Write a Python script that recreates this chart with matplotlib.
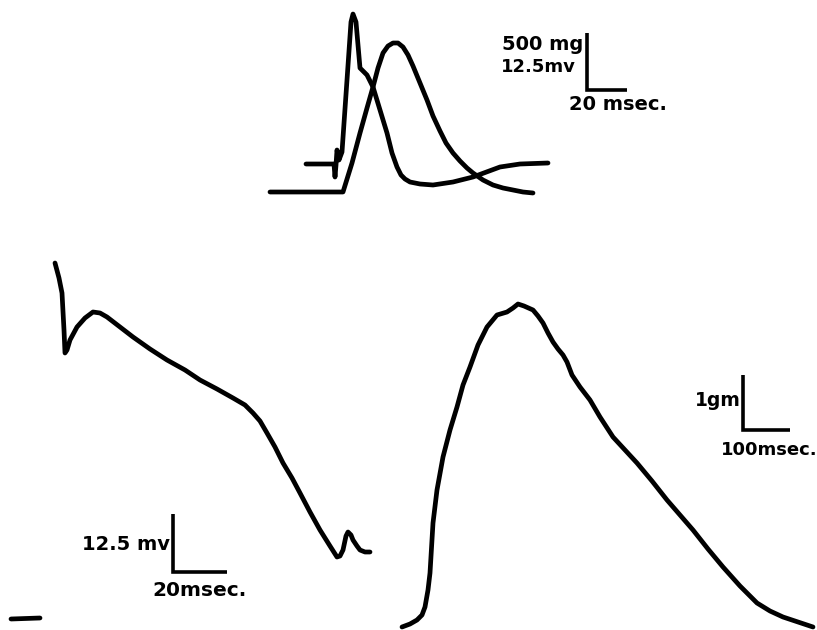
import matplotlib
matplotlib.use("Agg")
import matplotlib.pyplot as plt

# traces (pixel units, y grows downward)
# top: action potential with stimulus artifact
ap_x = [306, 334, 335, 336, 337, 339, 342, 347, 351, 353, 356, 358, 360, 367, 373,
        380, 387, 392, 397, 401, 405, 410, 420, 433, 453, 473, 500, 520, 548]
ap_y = [164, 164, 177, 165, 150, 160, 152, 80, 22, 14, 22, 45, 68, 75, 87,
        110, 133, 153, 167, 175, 179, 182, 184, 185, 182, 177, 167, 164, 163]

# top: twitch tension
tw_x = [270, 300, 343, 352, 360, 367, 373, 378, 383, 388, 393, 398, 403, 408, 413,
        420, 427, 433, 440, 446, 453, 460, 467, 473, 483, 493, 503, 513, 523, 533]
tw_y = [192, 192, 192, 163, 133, 108, 87, 68, 53, 46, 43, 43, 47, 55, 66,
        83, 100, 116, 131, 143, 153, 161, 168, 173, 180, 185, 188, 190, 192, 193]

# bottom left: ventricular action potential
vp_x = [55, 59, 62, 64, 65, 67, 70, 77, 85, 93, 100, 107, 120, 133, 150, 167, 185,
        200, 217, 233, 245, 253, 260, 267, 275, 283, 292, 300, 310, 320, 330,
        337, 340, 343, 346, 348, 351, 353, 357, 360, 365, 370]
vp_y = [263, 278, 293, 330, 353, 350, 340, 327, 318, 312, 313, 317, 327, 337, 349,
        360, 370, 380, 389, 398, 405, 413, 421, 433, 447, 463, 478, 493, 512, 530, 546,
        557, 556, 550, 536, 532, 535, 540, 546, 550, 552, 552]

# bottom right: contraction
ct_x = [402, 410, 417, 422, 425, 428, 430, 433, 437, 443, 450, 457, 463, 470, 478,
        487, 497, 507, 513, 518, 524, 533, 538, 543, 548, 553, 558, 563, 567, 572,
        580, 590, 600, 613, 625, 637, 652, 667, 680, 693, 708, 723, 740, 757,
        770, 783, 798, 813]
ct_y = [627, 624, 620, 615, 607, 590, 573, 523, 490, 457, 430, 407, 385, 367, 345,
        327, 315, 312, 308, 304, 306, 310, 316, 323, 333, 342, 349, 355, 362, 375,
        387, 400, 417, 437, 450, 463, 481, 500, 515, 530, 549, 567, 586, 603,
        611, 617, 622, 627]

dash_x = [11, 40]
dash_y = [619, 618]

# calibration bars: (corner x, corner y, bar height, bar width)
cal_top = (587, 90, 57, 40)
cal_left = (173, 572, 58, 54)
cal_right = (743, 430, 55, 47)

fig = plt.figure(figsize=(8.17, 6.3), dpi=100)
ax = fig.add_axes([0, 0, 1, 1])
ax.set_xlim(0, 817)
ax.set_ylim(630, 0)
ax.axis("off")

lw = 3.4
for xs, ys in [(ap_x, ap_y), (tw_x, tw_y), (vp_x, vp_y), (ct_x, ct_y), (dash_x, dash_y)]:
    ax.plot(xs, ys, color="black", lw=lw, solid_capstyle="round", solid_joinstyle="round")

for cx, cy, h, w in [cal_top, cal_left, cal_right]:
    ax.plot([cx, cx, cx + w], [cy - h, cy, cy], color="black", lw=2.6,
            solid_capstyle="butt", solid_joinstyle="miter")

font = dict(family="DejaVu Sans", weight="bold", color="black")
ax.text(583, 44, "500 mg", ha="right", va="center", fontsize=14, **font)
ax.text(576, 67, "12.5mv", ha="right", va="center", fontsize=13, **font)
ax.text(569, 105, "20 msec.", ha="left", va="center", fontsize=14, **font)

ax.text(170, 545, "12.5 mv", ha="right", va="center", fontsize=14, **font)
ax.text(152, 590, "20msec.", ha="left", va="center", fontsize=14.5, **font)

ax.text(741, 401, "1gm", ha="right", va="center", fontsize=13.5, **font)
ax.text(721, 450, "100msec.", ha="left", va="center", fontsize=13, **font)

fig.savefig("out.png", dpi=100)
